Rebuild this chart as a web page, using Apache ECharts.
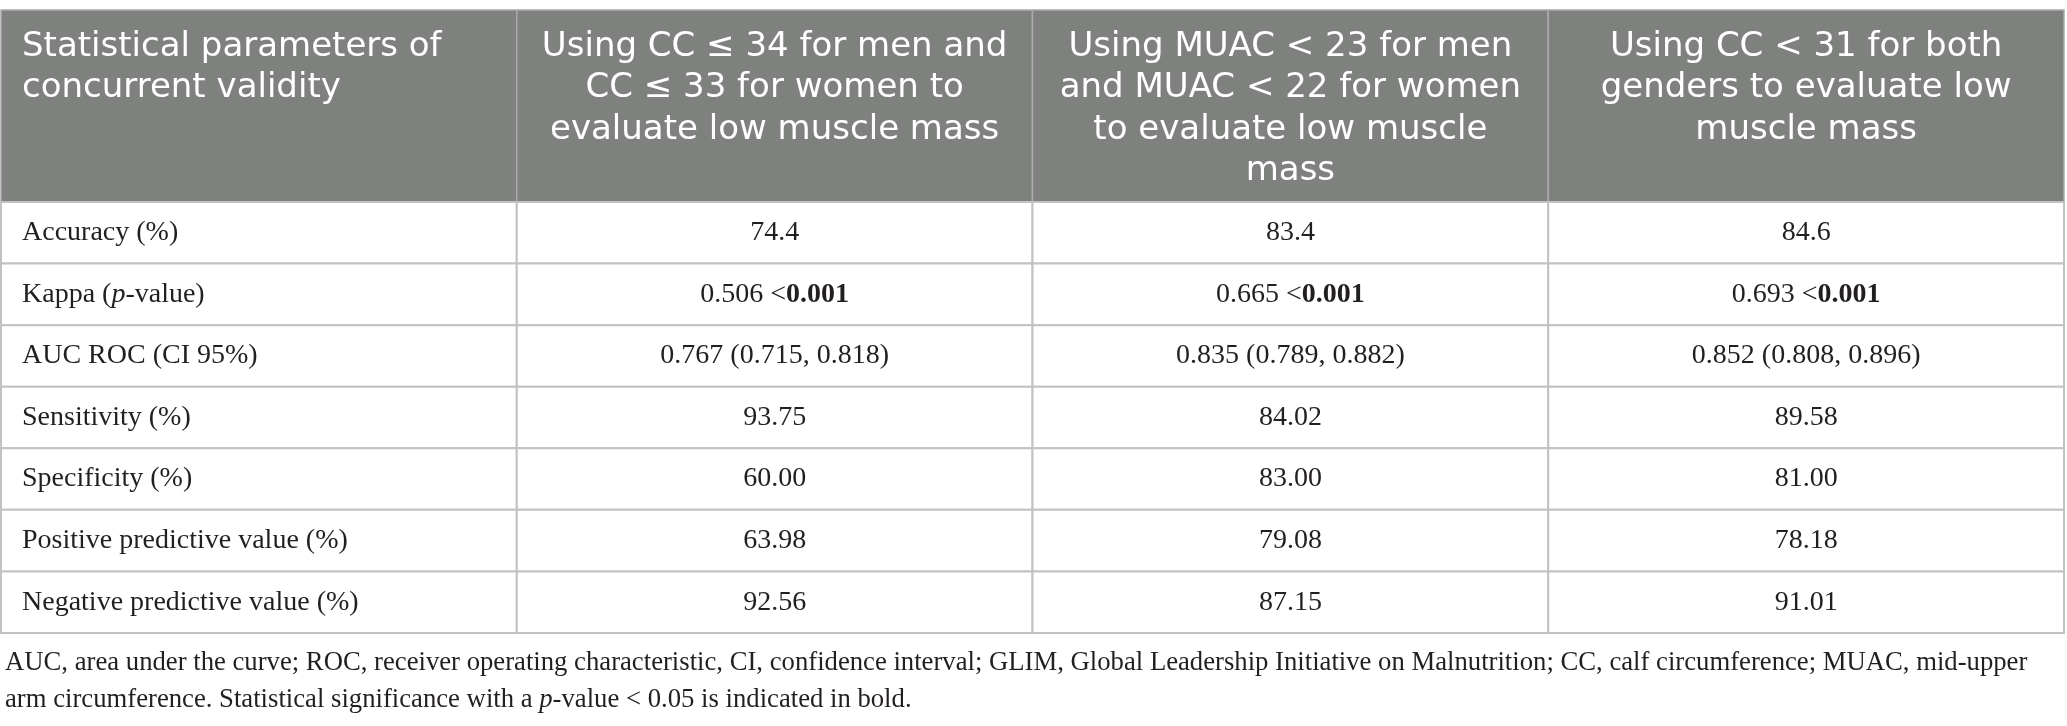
<!DOCTYPE html>
<html>
<head>
<meta charset="utf-8">
<script src="https://cdn.jsdelivr.net/npm/echarts@6/dist/echarts.min.js"></script>
<style>
  html, body { margin: 0; padding: 0; background: #fff; }
  #chart { width: 2067px; height: 726px; }
</style>
</head>
<body>
<div id="chart"></div>
<script>
// table content
const headers = [
  'Statistical parameters of\nconcurrent validity',
  'Using CC \u2264 34 for men and\nCC \u2264 33 for women to\nevaluate low muscle mass',
  'Using MUAC < 23 for men\nand MUAC < 22 for women\nto evaluate low muscle\nmass',
  'Using CC < 31 for both\ngenders to evaluate low\nmuscle mass'
]
const rowLabels = [
  'Accuracy (%)',
  'Kappa ({i|p}-value)',
  'AUC ROC (CI 95%)',
  'Sensitivity (%)',
  'Specificity (%)',
  'Positive predictive value (%)',
  'Negative predictive value (%)'
]
const ccBySex = ['74.4', '0.506 <{b|0.001}', '0.767 (0.715, 0.818)', '93.75', '60.00', '63.98', '92.56']
const muacBySex = ['83.4', '0.665 <{b|0.001}', '0.835 (0.789, 0.882)', '84.02', '83.00', '79.08', '87.15']
const cc31Both = ['84.6', '0.693 <{b|0.001}', '0.852 (0.808, 0.896)', '89.58', '81.00', '78.18', '91.01']
const footnote = [
  'AUC, area under the curve; ROC, receiver operating characteristic, CI, confidence interval; GLIM, Global Leadership Initiative on Malnutrition; CC, calf circumference; MUAC, mid-upper',
  'arm circumference. Statistical significance with a {i|p}-value < 0.05 is indicated in bold.'
]

const columns = [rowLabels, ccBySex, muacBySex, cc31Both]

const serif = '"Liberation Serif", "Times New Roman", serif'
const sans = '"DejaVu Sans", "Noto Sans", sans-serif'
const ink = '#231f20'
const bodySize = 28
const noteSize = 26.7

function richFor(size, color) {
  return {
    i: { fontFamily: serif, fontSize: size, fontStyle: 'italic', fill: color },
    b: { fontFamily: serif, fontSize: size, fontWeight: 'bold', fill: color }
  }
}

const headerData = headers.map((t, c) => [c, 0])
const bodyData = []
columns.forEach((col, c) => col.forEach((t, r) => bodyData.push([c, r])))

const chart = echarts.init(document.getElementById('chart'))

chart.setOption({
  animation: false,
  backgroundColor: '#fff',
  title: {
    left: 0,
    top: 639,
    text: footnote.join('\n'),
    textStyle: {
      fontFamily: serif,
      fontSize: noteSize,
      fontWeight: 'normal',
      color: ink,
      lineHeight: 37,
      rich: {
        i: { fontFamily: serif, fontSize: noteSize, fontStyle: 'italic', color: ink, lineHeight: 37 }
      }
    }
  },
  grid: [
    { left: 1, right: 3, top: 10, height: 192 },
    { left: 1, right: 3, top: 202, height: 431 }
  ],
  xAxis: [
    { gridIndex: 0, type: 'value', min: 0, max: 4, show: false },
    { gridIndex: 1, type: 'value', min: 0, max: 4, show: false }
  ],
  yAxis: [
    { gridIndex: 0, type: 'category', data: ['header'], show: false },
    { gridIndex: 1, type: 'category', data: rowLabels, inverse: true, show: false }
  ],
  series: [
    {
      type: 'custom',
      xAxisIndex: 0,
      yAxisIndex: 0,
      data: headerData,
      renderItem(params, api) {
        const c = api.value(0)
        const p = api.coord([c, 0])
        const s = api.size([1, 1])
        const x = p[0], y = p[1] - s[1] / 2
        return {
          type: 'group',
          children: [
            {
              type: 'rect',
              shape: { x: x, y: y, width: s[0], height: s[1] },
              style: { fill: '#7f817f', stroke: '#a9aaa9', lineWidth: 1.5 }
            },
            {
              type: 'text',
              style: {
                x: c === 0 ? x + 21 : x + s[0] / 2,
                y: y + 16,
                text: headers[c],
                align: c === 0 ? 'left' : 'center',
                verticalAlign: 'top',
                fontFamily: sans,
                fontSize: 34,
                lineHeight: 41.5,
                fill: '#fff'
              }
            }
          ]
        }
      }
    },
    {
      type: 'custom',
      xAxisIndex: 1,
      yAxisIndex: 1,
      data: bodyData,
      renderItem(params, api) {
        const c = api.value(0), r = api.value(1)
        const p = api.coord([c, r])
        const s = api.size([1, 1])
        const x = p[0], y = p[1] - s[1] / 2
        return {
          type: 'group',
          children: [
            {
              type: 'rect',
              shape: { x: x, y: y, width: s[0], height: s[1] },
              style: { fill: '#fff', stroke: '#c2c2c2', lineWidth: 2 }
            },
            {
              type: 'text',
              style: {
                x: c === 0 ? x + 21 : x + s[0] / 2,
                y: p[1],
                text: columns[c][r],
                align: c === 0 ? 'left' : 'center',
                verticalAlign: 'middle',
                fontFamily: serif,
                fontSize: bodySize,
                fill: ink,
                rich: richFor(bodySize, ink)
              }
            }
          ]
        }
      }
    }
  ]
})
</script>
</body>
</html>
